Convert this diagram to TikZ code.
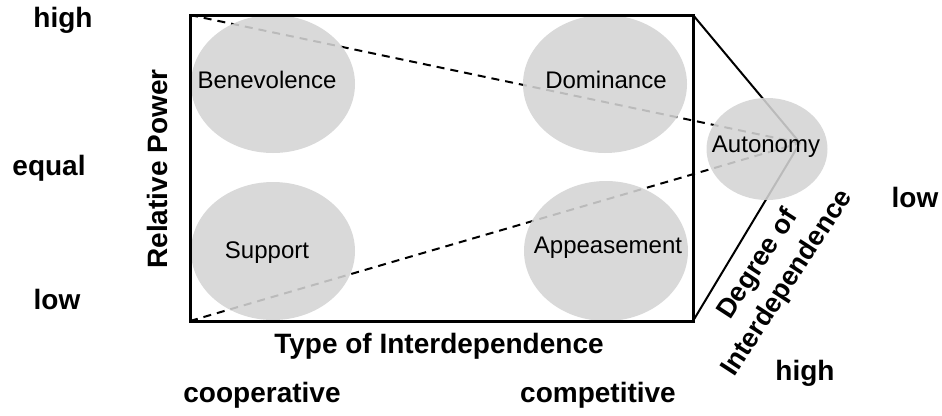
\documentclass[tikz,border=0pt]{standalone}
\usepackage{fontspec}
\setmainfont{Liberation Sans}
\usetikzlibrary{shapes.geometric}
\begin{document}
\begin{tikzpicture}[x=1pt,y=-1pt,
  blob/.style={ellipse, fill=black!17, fill opacity=0.88, inner sep=0pt},
  blobtext/.style={font=\fontsize{24}{27}\selectfont, inner sep=0pt},
  axislabel/.style={font=\fontsize{28}{31}\selectfont\bfseries},
  guide/.style={line width=2pt, dashed, dash pattern=on 8pt off 6pt},
  edge/.style={line width=2pt}]
\useasboundingbox (0,0) rectangle (942,415);

% corners of the power/interdependence frame and the apex on the right
\coordinate (tl) at (190,15);
\coordinate (tr) at (693,15);
\coordinate (bl) at (190,321);
\coordinate (br) at (693,321);
\coordinate (apex) at (800,143);

% perspective lines toward the apex
\draw[guide] (tl) -- (apex);
\draw[guide] (bl) -- (apex);
\draw[edge] (tr) -- (apex);
\draw[edge] (br) -- (apex);

% relationship types: translucent discs with their names on top
\node[blob, minimum width=164, minimum height=138] (ben) at (273,84) {};
\node[blob, minimum width=164, minimum height=138] (dom) at (605,84) {};
\node[blob, minimum width=164, minimum height=138] (sup) at (273,251) {};
\node[blob, minimum width=164, minimum height=140] (app) at (606,251) {};
\node[blob, minimum width=121, minimum height=102] (aut) at (767,149) {};

\node[blobtext] (bent) at ([shift={(-6,-4)}]ben.center) {Benevolence};
\node[blobtext] (domt) at ([shift={(1,-4)}]dom.center) {Dominance};
\node[blobtext] (supt) at ([shift={(-6,2)}]sup.center) {Support};
\node[blobtext] (appt) at ([shift={(2,-3)}]app.center) {Appeasement};
\node[blobtext] (autt) at ([shift={(-1,-2)}]aut.center) {Autonomy};

% frame
\draw[line width=3pt] (tl) rectangle (br);

% axis captions
\node[axislabel, rotate=90] (rp) at (157,169) {Relative Power};
\node[axislabel] (toi) at (439,346) {Type of Interdependence};
\node[axislabel, rotate=57, align=center, font=\fontsize{27}{35}\selectfont\bfseries]
  (doi) at (773,274) {Degree of\\Interdependence};

% axis values
\node[axislabel] (phigh) at (63,20) {high};
\node[axislabel] (pequal) at (49,168) {equal};
\node[axislabel] (plow) at (57,299) {low};
\node[axislabel] (coop) at (262,395) {cooperative};
\node[axislabel] (comp) at (598,395) {competitive};
\node[axislabel] (dlow) at (915,197) {low};
\node[axislabel] (dhigh) at (805,373) {high};
\end{tikzpicture}
\end{document}
